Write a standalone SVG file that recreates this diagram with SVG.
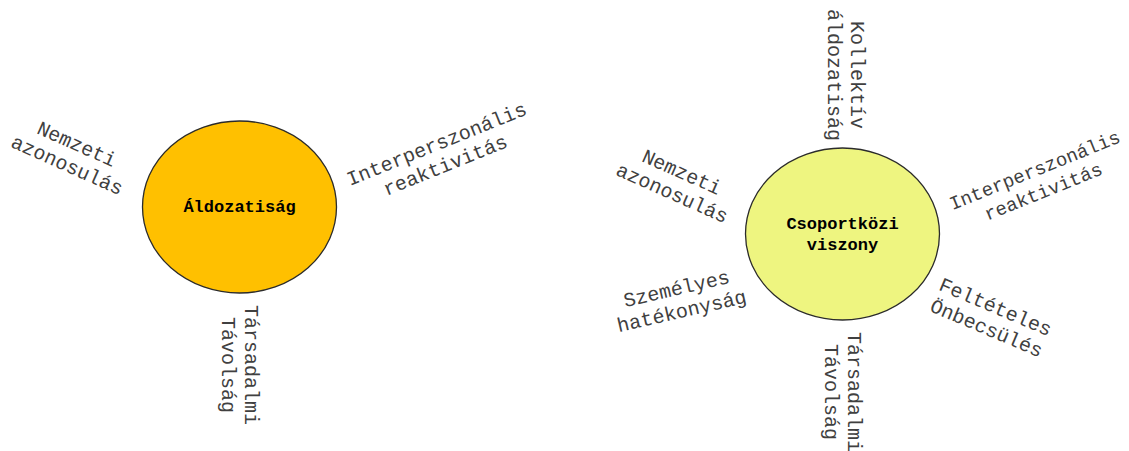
<svg xmlns="http://www.w3.org/2000/svg" width="1129" height="451" viewBox="0 0 1129 451">
<style>
.node{stroke:#2b2b2b;stroke-width:1.3}
.title{font-family:"Liberation Mono","Courier New",monospace;font-size:17px;font-weight:bold;fill:#000;text-anchor:middle}
.lbl{font-family:"Liberation Mono","Courier New",monospace;font-size:20px;fill:#404040;text-anchor:middle}
</style>
<rect width="1129" height="451" fill="#fff"/>
<g id="connectors"></g>
<g id="aldozatisag">
<ellipse class="node" cx="239.5" cy="207" rx="97" ry="86" fill="#FFC000"/>
<text class="title" x="239.5" y="212">Áldozatiság</text>
</g>
<g id="l-nemzeti">
<text class="lbl" transform="translate(74,150) rotate(24)"><tspan x="0" y="0">Nemzeti</tspan><tspan x="0" y="23">azonosulás</tspan></text>
</g>
<g id="l-interperszonalis">
<text class="lbl" transform="translate(439,150) rotate(-22)"><tspan x="0" y="0">Interperszonális</tspan><tspan x="0" y="23">reaktivitás</tspan></text>
</g>
<g id="l-tarsadalmi">
<text class="lbl" transform="translate(245,365) rotate(90)"><tspan x="0" y="0">Társadalmi</tspan><tspan x="0" y="23">Távolság</tspan></text>
</g>
<g id="csoportkozi">
<ellipse class="node" cx="842.5" cy="234" rx="97" ry="86" fill="#EEF580"/>
<text class="title" x="842.5" y="229">Csoportközi</text>
<text class="title" x="842.5" y="250">viszony</text>
</g>
<g id="r-kollektiv">
<text class="lbl" transform="translate(851,75) rotate(90)"><tspan x="0" y="0">Kollektív</tspan><tspan x="0" y="23">áldozatiság</tspan></text>
</g>
<g id="r-nemzeti">
<text class="lbl" transform="translate(679,178) rotate(24)"><tspan x="0" y="0">Nemzeti</tspan><tspan x="0" y="23">azonosulás</tspan></text>
</g>
<g id="r-interperszonalis">
<text class="lbl" style="font-size:19px" transform="translate(1037,176) rotate(-22)"><tspan x="0" y="0">Interperszonális</tspan><tspan x="0" y="23">reaktivitás</tspan></text>
</g>
<g id="r-szemelyes">
<text class="lbl" transform="translate(678,295) rotate(-13)"><tspan x="0" y="0">Személyes</tspan><tspan x="0" y="23">hatékonyság</tspan></text>
</g>
<g id="r-felteteles">
<text class="lbl" transform="translate(993,313) rotate(23)"><tspan x="0" y="0">Feltételes</tspan><tspan x="0" y="23">Önbecsülés</tspan></text>
</g>
<g id="r-tarsadalmi">
<text class="lbl" transform="translate(848,392) rotate(90)"><tspan x="0" y="0">Társadalmi</tspan><tspan x="0" y="23">Távolság</tspan></text>
</g>
</svg>
